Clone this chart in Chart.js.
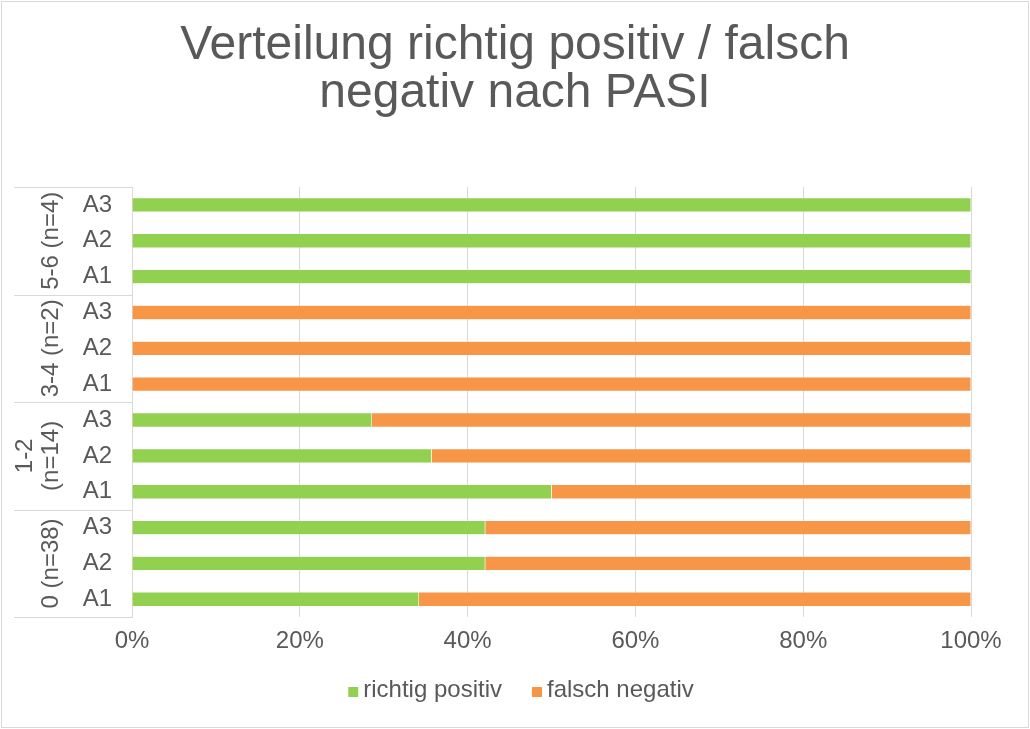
<!DOCTYPE html>
<html>
<head>
<meta charset="utf-8">
<script src="https://cdn.jsdelivr.net/npm/chart.js@4/dist/chart.umd.min.js"></script>
<style>
  html, body { margin: 0; padding: 0; background: #fff; }
  #wrap { width: 1030px; height: 729px; }
</style>
</head>
<body>
<div id="wrap"><canvas id="chart" width="1030" height="729"></canvas></div>
<script>
// Gruppen (von oben nach unten) und Unterkategorien
const groups = [['5-6 (n=4)'], ['3-4 (n=2)'], ['1-2', '(n=14)'], ['0 (n=38)']];
const subLabels = ['A3', 'A2', 'A1'];

// Anteile in % (Reihenfolge: oben nach unten)
const richtigPositiv = [100, 100, 100, 0, 0, 0, 28.6, 35.7, 50, 42.1, 42.1, 34.2];
const falschNegativ = [0, 0, 0, 100, 100, 100, 71.4, 64.3, 50, 57.9, 57.9, 65.8];

const xTicks = [0, 20, 40, 60, 80, 100];
const titleLines = ['Verteilung richtig positiv / falsch', 'negativ nach PASI'];

const TEXT = '#595959';
const LINE = '#d9d9d9';
const FONT = "'Liberation Sans', Arial, Helvetica, sans-serif";

const labels = groups.flatMap(() => subLabels);

// Titel oben, über die ganze Breite zentriert
const titlePlugin = {
  id: 'bigTitle',
  afterDraw(chart) {
    const { ctx, width } = chart;
    ctx.save();
    ctx.fillStyle = TEXT;
    ctx.font = '48px ' + FONT;
    ctx.textAlign = 'center';
    ctx.textBaseline = 'alphabetic';
    titleLines.forEach((t, i) => ctx.fillText(t, width / 2, 59 + i * 48));
    ctx.restore();
  }
};

// Gruppenbeschriftung + Trennlinien links
const groupPlugin = {
  id: 'groupLabels',
  afterDraw(chart) {
    const { ctx, chartArea, scales: { y } } = chart;
    const step = Math.abs(y.getPixelForValue(1) - y.getPixelForValue(0));
    ctx.save();
    ctx.strokeStyle = LINE;
    ctx.lineWidth = 1;
    groups.forEach((g, gi) => {
      const top = y.getPixelForValue(gi * 3) - step / 2;
      const bottom = y.getPixelForValue(gi * 3 + 2) + step / 2;
      [top, bottom].forEach(py => {
        ctx.beginPath();
        ctx.moveTo(14, Math.round(py) + 0.5);
        ctx.lineTo(chartArea.left, Math.round(py) + 0.5);
        ctx.stroke();
      });
      ctx.save();
      ctx.fillStyle = TEXT;
      ctx.font = '24px ' + FONT;
      ctx.textAlign = 'center';
      ctx.textBaseline = 'middle';
      g.forEach((line, li) => {
        const cx = 51 - (g.length - 1 - li) * 26;
        ctx.save();
        ctx.translate(cx, (top + bottom) / 2);
        ctx.rotate(-Math.PI / 2);
        ctx.fillText(line, 0, 0);
        ctx.restore();
      });
      ctx.restore();
    });
    ctx.restore();
  }
};

// Legende unten (kleines Quadrat direkt vor dem Text)
const legendPlugin = {
  id: 'bottomLegend',
  afterDraw(chart) {
    const { ctx } = chart;
    const box = 10, gap = 5, spacing = 30, cy = 690, cx = 521;
    ctx.save();
    ctx.font = '24px ' + FONT;
    const items = chart.data.datasets.map(ds => ({
      text: ds.label,
      color: ds.backgroundColor,
      w: box + gap + ctx.measureText(ds.label).width
    }));
    const total = items.reduce((s, it) => s + it.w, 0) + spacing * (items.length - 1);
    let x = cx - total / 2;
    ctx.textBaseline = 'middle';
    ctx.textAlign = 'left';
    items.forEach(it => {
      ctx.fillStyle = it.color;
      ctx.fillRect(x, cy - box / 2 + 2, box, box);
      ctx.fillStyle = TEXT;
      ctx.fillText(it.text, x + box + gap, cy);
      x += it.w + spacing;
    });
    ctx.restore();
  }
};

// Rahmen um das Diagramm
const framePlugin = {
  id: 'frame',
  beforeDraw(chart) {
    const { ctx, width, height } = chart;
    ctx.save();
    ctx.fillStyle = '#fff';
    ctx.fillRect(0, 0, width, height);
    ctx.strokeStyle = LINE;
    ctx.lineWidth = 1;
    ctx.strokeRect(1.5, 1.5, width - 3, height - 3);
    ctx.restore();
  }
};

new Chart(document.getElementById('chart'), {
  type: 'bar',
  data: {
    labels,
    datasets: [
      {
        label: 'richtig positiv',
        data: richtigPositiv,
        backgroundColor: '#92d050',
        borderColor: 'rgba(255,255,255,0.6)',
        borderWidth: 0.5,
        barPercentage: 0.4,
        categoryPercentage: 1
      },
      {
        label: 'falsch negativ',
        data: falschNegativ,
        backgroundColor: '#f79646',
        borderColor: 'rgba(255,255,255,0.6)',
        borderWidth: 0.5,
        barPercentage: 0.4,
        categoryPercentage: 1
      }
    ]
  },
  options: {
    indexAxis: 'y',
    responsive: false,
    animation: false,
    layout: { padding: { left: 0, right: 59, top: 187, bottom: 63 } },
    scales: {
      x: {
        stacked: true,
        min: 0,
        max: 100,
        afterBuildTicks: scale => { scale.ticks = xTicks.map(v => ({ value: v })); },
        ticks: {
          callback: v => v + '%',
          color: TEXT,
          font: { family: FONT, size: 24 },
          padding: 10
        },
        grid: { color: LINE, lineWidth: 1, drawTicks: false },
        border: { display: false }
      },
      y: {
        stacked: true,
        afterFit: scale => { scale.width = 132; },
        ticks: {
          color: TEXT,
          font: { family: FONT, size: 24 },
          padding: 20
        },
        grid: { display: false, drawTicks: false },
        border: { display: true, color: LINE, width: 1 }
      }
    },
    plugins: {
      title: { display: false },
      legend: { display: false },
      tooltip: { enabled: false }
    }
  },
  plugins: [framePlugin, groupPlugin, titlePlugin, legendPlugin]
});
</script>
</body>
</html>
